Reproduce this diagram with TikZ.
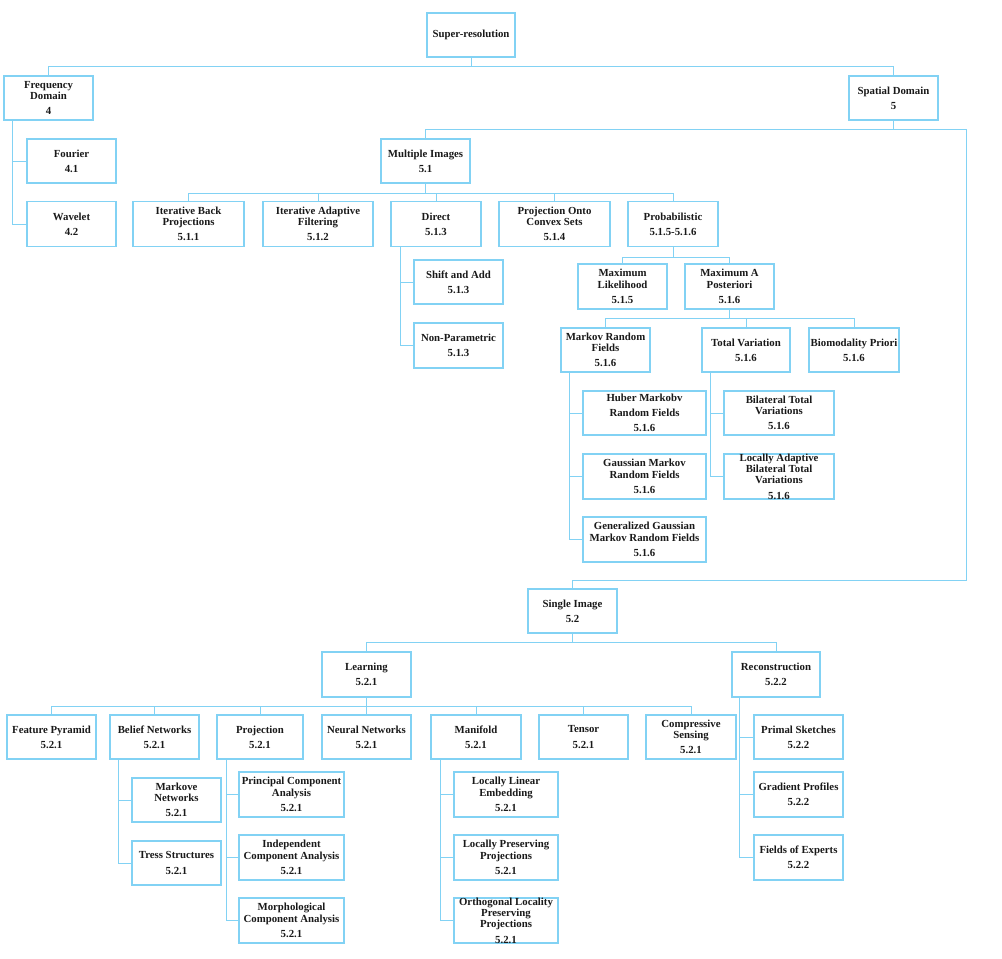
\documentclass[tikz,border=0pt]{standalone}
\usepackage{fontspec}
\setmainfont{Liberation Serif}
\definecolor{lb}{RGB}{130,210,244}
\tikzset{
  bx/.style={draw=lb, line width=1.1pt, font=\bfseries\fontsize{10.8}{11.4}\selectfont,
    align=center, inner xsep=-6pt, inner ysep=-8pt, text=black!90,
    minimum width=89pt, minimum height=44pt},
  ln/.style={draw=lb, line width=0.9pt},
}
\newcommand\nb{\\[3.8pt]}
\begin{document}
\begin{tikzpicture}[x=1pt,y=-1pt]
\useasboundingbox (0,0) rectangle (1002,959);
% top
\node[bx,minimum width=88pt] (sr) at (471,35) {Super-resolution};
\node[bx] (fd) at (48.5,98) {Frequency\\Domain\nb 4};
\node[bx] (four) at (71.5,161) {Fourier\nb 4.1};
\node[bx,minimum height=45pt] (wav) at (71.5,224) {Wavelet\nb 4.2};
\node[bx] (sd) at (893.5,98) {Spatial Domain\nb 5};
\node[bx] (mi) at (425.5,161) {Multiple Images\nb 5.1};
% 5.1.x
\node[bx,minimum width=111pt,minimum height=45pt] (ibp) at (188.5,224) {Iterative Back\\Projections\nb 5.1.1};
\node[bx,minimum width=110pt,minimum height=45pt] (iaf) at (318,224) {Iterative Adaptive\\Filtering\nb 5.1.2};
\node[bx,minimum width=90pt,minimum height=45pt] (dir) at (436,224) {Direct\nb 5.1.3};
\node[bx,minimum width=111pt,minimum height=45pt] (pocs) at (554.5,224) {Projection Onto\\Convex Sets\nb 5.1.4};
\node[bx,minimum width=90pt,minimum height=45pt] (prob) at (673,224) {Probabilistic\nb 5.1.5-5.1.6};
\node[bx] (sa) at (458.5,282) {Shift and Add\nb 5.1.3};
\node[bx,minimum height=45pt] (np) at (458.5,345.5) {Non-Parametric\nb 5.1.3};
\node[bx,minimum height=45pt] (ml) at (622.5,286.5) {Maximum\\Likelihood\nb 5.1.5};
\node[bx,minimum height=45pt] (map) at (729.5,286.5) {Maximum A\\Posteriori\nb 5.1.6};
\node[bx] (mrf) at (605.5,350) {Markov Random\\Fields\nb 5.1.6};
\node[bx,minimum width=88pt] (tv) at (746,350) {Total Variation\nb 5.1.6};
\node[bx,minimum width=90pt] (bp) at (854,350) {Biomodality Priori\nb 5.1.6};
\node[bx,minimum width=123pt] (huber) at (644.5,413) {Huber Markobv\nb Random Fields\nb 5.1.6};
\node[bx,minimum width=123pt,minimum height=45pt] (gmrf) at (644.5,476.5) {Gaussian Markov\\Random Fields\nb 5.1.6};
\node[bx,minimum width=123pt,minimum height=45pt] (ggmrf) at (644.5,539.5) {Generalized Gaussian\\Markov Random Fields\nb 5.1.6};
\node[bx,minimum width=110pt] (btv) at (779,413) {Bilateral Total\\Variations\nb 5.1.6};
\node[bx,minimum width=110pt,minimum height=45pt] (labtv) at (779,476.5) {Locally Adaptive\\Bilateral Total\\Variations\nb 5.1.6};
% single image
\node[bx] (si) at (572.5,611) {Single Image\nb 5.2};
\node[bx,minimum height=45pt] (learn) at (366.5,674.5) {Learning\nb 5.2.1};
\node[bx,minimum width=88pt,minimum height=45pt] (recon) at (776,674.5) {Reconstruction\nb 5.2.2};
\node[bx] (fp) at (51.5,737) {Feature Pyramid\nb 5.2.1};
\node[bx] (bn) at (154.5,737) {Belief Networks\nb 5.2.1};
\node[bx,minimum width=86pt] (proj) at (260,737) {Projection\nb 5.2.1};
\node[bx] (nn) at (366.5,737) {Neural Networks\nb 5.2.1};
\node[bx,minimum width=90pt] (man) at (476,737) {Manifold\nb 5.2.1};
\node[bx] (ten) at (583.5,737) {Tensor\nb 5.2.1};
\node[bx,minimum width=90pt] (cs) at (691,737) {Compressive\\Sensing\nb 5.2.1};
\node[bx] (mn) at (176.5,800) {Markove\\Networks\nb 5.2.1};
\node[bx] (ts) at (176.5,863) {Tress Structures\nb 5.2.1};
\node[bx,minimum width=105pt,minimum height=45pt] (pca) at (291.5,794.5) {Principal Component\\Analysis\nb 5.2.1};
\node[bx,minimum width=105pt,minimum height=45pt] (ica) at (291.5,857.5) {Independent\\Component Analysis\nb 5.2.1};
\node[bx,minimum width=105pt,minimum height=45pt] (mca) at (291.5,920.5) {Morphological\\Component Analysis\nb 5.2.1};
\node[bx,minimum width=104pt,minimum height=45pt] (lle) at (506,794.5) {Locally Linear\\Embedding\nb 5.2.1};
\node[bx,minimum width=104pt,minimum height=45pt] (lpp) at (506,857.5) {Locally Preserving\\Projections\nb 5.2.1};
\node[bx,minimum width=104pt,minimum height=45pt] (olpp) at (506,920.5) {Orthogonal Locality\\Preserving\\Projections\nb 5.2.1};
\node[bx] (ps) at (798.5,737) {Primal Sketches\nb 5.2.2};
\node[bx,minimum height=45pt] (gp) at (798.5,794.5) {Gradient Profiles\nb 5.2.2};
\node[bx,minimum height=45pt] (foe) at (798.5,857.5) {Fields of Experts\nb 5.2.2};
% connectors
\draw[ln] (sr.south) -- ++(0,9) -| (fd.north);
\draw[ln] (sr.south) -- ++(0,9) -| (sd.north);
\foreach \c in {four,wav} \draw[ln] ([xshift=9pt]fd.south west) |- (\c.west);
\draw[ln] (sd.south) -- ++(0,9) -| (mi.north);
\coordinate (r1) at (966,129);
\coordinate (r2) at (966,580);
\draw[ln] (sd.south) |- (r1) -- (r2) -| (si.north);
\foreach \c in {ibp,iaf,dir,pocs,prob} \draw[ln] (mi.south) -- ++(0,10) -| (\c.north);
\foreach \c in {sa,np} \draw[ln] ([xshift=10pt]dir.south west) |- (\c.west);
\foreach \c in {ml,map} \draw[ln] (prob.south) -- ++(0,10) -| (\c.north);
\foreach \c in {mrf,tv,bp} \draw[ln] (map.south) -- ++(0,9) -| (\c.north);
\foreach \c in {huber,gmrf,ggmrf} \draw[ln] ([xshift=9pt]mrf.south west) |- (\c.west);
\foreach \c in {btv,labtv} \draw[ln] ([xshift=9pt]tv.south west) |- (\c.west);
\foreach \c in {learn,recon} \draw[ln] (si.south) -- ++(0,9) -| (\c.north);
\foreach \c in {fp,bn,proj,nn,man,ten,cs} \draw[ln] (learn.south) -- ++(0,9) -| (\c.north);
\foreach \c in {mn,ts} \draw[ln] ([xshift=9pt]bn.south west) |- (\c.west);
\foreach \c in {pca,ica,mca} \draw[ln] ([xshift=10pt]proj.south west) |- (\c.west);
\foreach \c in {lle,lpp,olpp} \draw[ln] ([xshift=10pt]man.south west) |- (\c.west);
\foreach \c in {ps,gp,foe} \draw[ln] ([xshift=8pt]recon.south west) |- (\c.west);
\end{tikzpicture}
\end{document}
